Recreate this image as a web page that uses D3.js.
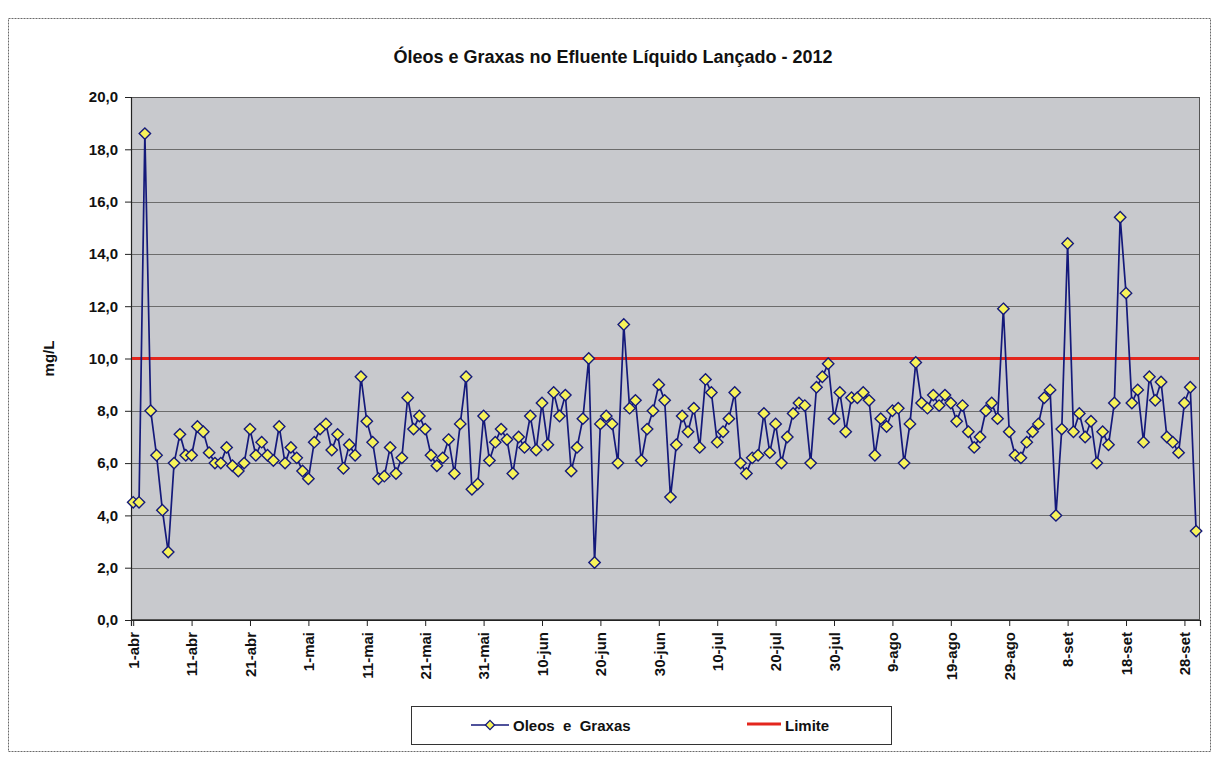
<!DOCTYPE html>
<html>
<head>
<meta charset="utf-8">
<title>Óleos e Graxas no Efluente Líquido Lançado - 2012</title>
<script src="https://cdn.jsdelivr.net/npm/d3@7"></script>
<style>
  html, body { margin: 0; padding: 0; background: #ffffff; }
  svg { display: block; font-family: "Liberation Sans", Arial, sans-serif; }
  .bold { font-weight: bold; }
</style>
</head>
<body>
<svg id="chart" width="1219" height="769"></svg>
<script>
// Óleos e graxas (mg/L) medidos diariamente, um array por mês de 2012
const abril    = [4.5, 4.5, 18.6, 8.0, 6.3, 4.2, 2.6, 6.0, 7.1, 6.3,
                  6.3, 7.4, 7.2, 6.4, 6.0, 6.0, 6.6, 5.9, 5.7, 6.0,
                  7.3, 6.3, 6.8, 6.3, 6.1, 7.4, 6.0, 6.6, 6.2, 5.7];
const maio     = [5.4, 6.8, 7.3, 7.5, 6.5, 7.1, 5.8, 6.7, 6.3, 9.3,
                  7.6, 6.8, 5.4, 5.5, 6.6, 5.6, 6.2, 8.5, 7.3, 7.8,
                  7.3, 6.3, 5.9, 6.2, 6.9, 5.6, 7.5, 9.3, 5.0, 5.2, 7.8];
const junho    = [6.1, 6.8, 7.3, 6.9, 5.6, 7.0, 6.6, 7.8, 6.5, 8.3,
                  6.7, 8.7, 7.8, 8.6, 5.7, 6.6, 7.7, 10.0, 2.2, 7.5,
                  7.8, 7.5, 6.0, 11.3, 8.1, 8.4, 6.1, 7.3, 8.0, 9.0];
const julho    = [8.4, 4.7, 6.7, 7.8, 7.2, 8.1, 6.6, 9.2, 8.7, 6.8,
                  7.2, 7.7, 8.7, 6.0, 5.6, 6.2, 6.3, 7.9, 6.4, 7.5,
                  6.0, 7.0, 7.9, 8.3, 8.2, 6.0, 8.9, 9.3, 9.8, 7.7, 8.7];
const agosto   = [7.2, 8.5, 8.5, 8.7, 8.4, 6.3, 7.7, 7.4, 8.0, 8.1,
                  6.0, 7.5, 9.85, 8.3, 8.1, 8.6, 8.2, 8.6, 8.3, 7.6,
                  8.2, 7.2, 6.6, 7.0, 8.0, 8.3, 7.7, 11.9, 7.2, 6.3, 6.2];
const setembro = [6.8, 7.2, 7.5, 8.5, 8.8, 4.0, 7.3, 14.4, 7.2, 7.9,
                  7.0, 7.6, 6.0, 7.2, 6.7, 8.3, 15.4, 12.5, 8.3, 8.8,
                  6.8, 9.3, 8.4, 9.1, 7.0, 6.8, 6.4, 8.3, 8.9, 3.4];

// Limite de lançamento (mg/L)
const limite = 10.0;

// Rótulos do eixo de datas e do eixo de valores
const tickLabels = ["1-abr", "11-abr", "21-abr", "1-mai", "11-mai", "21-mai", "31-mai",
                    "10-jun", "20-jun", "30-jun", "10-jul", "20-jul", "30-jul",
                    "9-ago", "19-ago", "29-ago", "8-set", "18-set", "28-set"];
const yTicks = [0, 2, 4, 6, 8, 10, 12, 14, 16, 18, 20];

const meses = ["jan", "fev", "mar", "abr", "mai", "jun", "jul", "ago", "set", "out", "nov", "dez"];
const ano = 2012;

// Série diária: cada valor recebe a data do seu dia no mês
const porMes = [[3, abril], [4, maio], [5, junho], [6, julho], [7, agosto], [8, setembro]];
const serie = porMes.flatMap(([m, vals]) =>
  vals.map((v, i) => ({ date: new Date(Date.UTC(ano, m, i + 1)), v })));

const tickDates = tickLabels.map(s => {
  const [d, m] = s.split("-");
  return new Date(Date.UTC(ano, meses.indexOf(m), +d));
});

// Geometria
const plot = { left: 131, right: 1200, top: 97, bottom: 620 };
const svg = d3.select("#chart");

// Moldura externa do gráfico
svg.append("rect")
  .attr("x", 8.5).attr("y", 18.5)
  .attr("width", 1202).attr("height", 733)
  .attr("fill", "#ffffff")
  .attr("stroke", "#6a6a6a").attr("stroke-width", 1)
  .attr("stroke-dasharray", "2,1");

const x = d3.scaleUtc()
  .domain([new Date(Date.UTC(ano, 2, 31, 15)), new Date(Date.UTC(ano, 8, 30, 16))])
  .range([plot.left, plot.right]);

const y = d3.scaleLinear()
  .domain([0, 20])
  .range([plot.bottom, plot.top]);

// Título
svg.append("text")
  .attr("class", "bold")
  .attr("x", 613).attr("y", 63)
  .attr("text-anchor", "middle")
  .attr("font-size", 18)
  .attr("fill", "#111")
  .text("Óleos e Graxas no Efluente Líquido Lançado - 2012");

// Área de plotagem
svg.append("rect")
  .attr("x", plot.left).attr("y", plot.top)
  .attr("width", plot.right - plot.left).attr("height", plot.bottom - plot.top)
  .attr("fill", "#c8c9cd");

// Linhas de grade horizontais
svg.append("g")
  .selectAll("line")
  .data(yTicks.filter(v => v > 0))
  .join("line")
  .attr("x1", plot.left).attr("x2", plot.right)
  .attr("y1", d => Math.round(y(d)) + 0.5).attr("y2", d => Math.round(y(d)) + 0.5)
  .attr("stroke", "#6c6c6c").attr("stroke-width", 1);

// Borda da área de plotagem
svg.append("rect")
  .attr("x", plot.left + 0.5).attr("y", plot.top + 0.5)
  .attr("width", plot.right - plot.left - 1).attr("height", plot.bottom - plot.top - 1)
  .attr("fill", "none")
  .attr("stroke", "#555").attr("stroke-width", 1);

// Eixo Y
const fmt = d3.formatLocale({ decimal: ",", thousands: ".", grouping: [3], currency: ["R$", ""] }).format(".1f");
const yAxis = svg.append("g")
  .attr("transform", `translate(${plot.left},0)`)
  .call(d3.axisLeft(y).tickValues(yTicks).tickFormat(fmt).tickSize(6).tickPadding(7));
yAxis.select(".domain").attr("stroke", "#222").attr("stroke-width", 1.2);
yAxis.selectAll(".tick line").attr("stroke", "#222");
yAxis.selectAll("text")
  .attr("class", "bold")
  .attr("font-size", 15)
  .attr("font-family", "Liberation Sans, Arial, sans-serif")
  .attr("fill", "#111");

// Título do eixo Y
svg.append("text")
  .attr("class", "bold")
  .attr("transform", `translate(54,${(plot.top + plot.bottom) / 2}) rotate(-90)`)
  .attr("text-anchor", "middle")
  .attr("font-size", 15)
  .attr("fill", "#111")
  .text("mg/L");

// Eixo X (datas)
const xAxis = svg.append("g")
  .attr("transform", `translate(0,${plot.bottom})`)
  .call(d3.axisBottom(x).tickValues(tickDates).tickFormat((d, i) => tickLabels[i]).tickSize(6));
xAxis.select(".domain").attr("stroke", "#222").attr("stroke-width", 1.2);
xAxis.selectAll(".tick line").attr("stroke", "#222");
xAxis.selectAll("text")
  .attr("class", "bold")
  .attr("font-size", 15)
  .attr("font-family", "Liberation Sans, Arial, sans-serif")
  .attr("fill", "#111")
  .attr("transform", "rotate(-90)")
  .attr("text-anchor", "end")
  .attr("x", -12).attr("y", 0).attr("dy", "0.35em");

// Linha do limite
svg.append("line")
  .attr("x1", plot.left + 1).attr("x2", plot.right - 1)
  .attr("y1", y(limite)).attr("y2", y(limite))
  .attr("stroke", "#e3261d").attr("stroke-width", 3.2);

// Série de óleos e graxas
const linha = d3.line().x(d => x(d.date)).y(d => y(d.v));
svg.append("path")
  .datum(serie)
  .attr("d", linha)
  .attr("fill", "none")
  .attr("stroke", "#14197a").attr("stroke-width", 1.7)
  .attr("stroke-linejoin", "round");

// Marcador losango (quadrado girado 45°)
const losango = {
  draw(ctx, size) {
    const r = Math.sqrt(size / 2);
    ctx.moveTo(0, -r); ctx.lineTo(r, 0); ctx.lineTo(0, r); ctx.lineTo(-r, 0); ctx.closePath();
  }
};
const marcador = d3.symbol().type(losango).size(2 * 5.7 * 5.7);

svg.append("g")
  .selectAll("path")
  .data(serie)
  .join("path")
  .attr("transform", d => `translate(${x(d.date)},${y(d.v)})`)
  .attr("d", marcador)
  .attr("fill", "#f6f25a")
  .attr("stroke", "#14197a").attr("stroke-width", 1.4);

// Legenda
const leg = svg.append("g");
leg.append("rect")
  .attr("x", 411.5).attr("y", 706.5)
  .attr("width", 480).attr("height", 38)
  .attr("fill", "#ffffff").attr("stroke", "#333").attr("stroke-width", 1);
leg.append("line")
  .attr("x1", 471).attr("x2", 509).attr("y1", 725).attr("y2", 725)
  .attr("stroke", "#14197a").attr("stroke-width", 1.7);
leg.append("path")
  .attr("transform", "translate(490,725)")
  .attr("d", d3.symbol().type(losango).size(2 * 4.6 * 4.6))
  .attr("fill", "#f6f25a").attr("stroke", "#14197a").attr("stroke-width", 1.3);
leg.append("text")
  .attr("class", "bold")
  .attr("x", 513).attr("y", 730.5)
  .attr("font-size", 15)
  .attr("fill", "#111")
  .style("white-space", "pre")
  .text("Oleos  e  Graxas");
leg.append("line")
  .attr("x1", 747).attr("x2", 781).attr("y1", 724).attr("y2", 724)
  .attr("stroke", "#e3261d").attr("stroke-width", 3.2);
leg.append("text")
  .attr("class", "bold")
  .attr("x", 785).attr("y", 730.5)
  .attr("font-size", 15)
  .attr("fill", "#111")
  .text("Limite");
</script>
</body>
</html>
